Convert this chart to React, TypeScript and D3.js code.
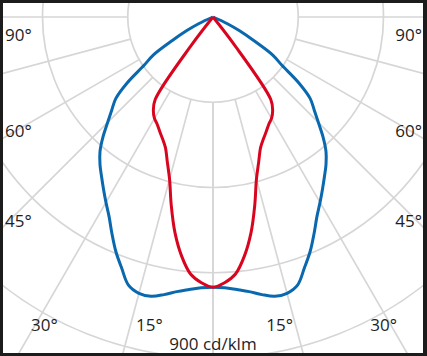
import React from "react";
import * as d3 from "d3";

const W = 427;
const H = 356;

// gamma angles (degrees from nadir) and intensities in cd/klm
const gammaAngles = [0, 2.5, 5, 7.5, 10, 12.5, 15, 17.5, 20, 22.5, 25, 27.5, 30, 32.5, 35, 37.5, 40, 42.5, 45, 47.5, 50, 52.5, 55, 57.5, 60, 62.5, 65, 67.5];
const blueValues = [713, 715, 722, 731, 744, 755, 755, 742, 705, 670, 631, 594, 565, 538, 513, 490, 464, 430, 393, 362, 335, 285, 222, 187, 124, 79, 42, 0];
const redValues = [713, 702, 681, 636, 578, 509, 443, 401, 367, 348, 333, 319, 309, 293, 266, 92, 0];

const gridValues = [225, 450, 675, 900];
const radialAngles = [0, 15, 30, 45, 60, 75, 90];
const sideLabels = ["90°", "60°", "45°"];
const bottomLabels = ["30°", "15°"];
const unitLabel = "900 cd/klm";

const CX = 213;
const CY = 17;

export default function App() {
  const r = d3.scaleLinear().domain([0, 900]).range([0, 341]);
  const rad = (d: number) => (d * Math.PI) / 180;

  const buildPoints = (vals: number[]) => {
    const n = vals.length;
    const pts: [number, number][] = [];
    // left side: from zero (centre) down to nadir
    for (let i = n - 1; i >= 0; i--) {
      const g = rad(gammaAngles[i]);
      pts.push([CX - r(vals[i]) * Math.sin(g), CY + r(vals[i]) * Math.cos(g)]);
    }
    for (let i = 1; i < n; i++) {
      const g = rad(gammaAngles[i]);
      pts.push([CX + r(vals[i]) * Math.sin(g), CY + r(vals[i]) * Math.cos(g)]);
    }
    return pts;
  };

  const line = d3.line().curve(d3.curveCatmullRom.alpha(0.5));
  const bluePath = line(buildPoints(blueValues)) || "";
  const redPath = line(buildPoints(redValues)) || "";

  const gridColor = "#d6d6d6";
  const r0 = r(gridValues[0]);
  const rFar = 700;

  const font = "'Open Sans', 'Noto Sans', sans-serif";
  const textColor = "#1e1e1e";

  return (
    <div style={{ position: "absolute", left: 0, top: 0 }}>
      <svg width={W} height={H} style={{ display: "block" }}>
        <defs>
          <clipPath id="plotClip">
            <rect x={3} y={3} width={420} height={350} />
          </clipPath>
        </defs>
        <rect x={0} y={0} width={W} height={H} fill="#1c1c1c" />
        <rect x={3} y={3} width={420} height={350} fill="#ffffff" />
        <g clipPath="url(#plotClip)">
          {gridValues.map((v) => (
            <circle key={v} cx={CX} cy={CY} r={r(v)} fill="none" stroke={gridColor} strokeWidth={1.7} />
          ))}
          {radialAngles.flatMap((a) =>
            [-1, 1].map((s) => (
              <line
                key={`${a}-${s}`}
                x1={CX + s * r0 * Math.sin(rad(a))}
                y1={CY + r0 * Math.cos(rad(a))}
                x2={CX + s * rFar * Math.sin(rad(a))}
                y2={CY + rFar * Math.cos(rad(a))}
                stroke={gridColor}
                strokeWidth={1.7}
              />
            ))
          )}
          <path d={bluePath} fill="none" stroke="#0a68ae" strokeWidth={3} strokeLinejoin="round" />
          <path d={redPath} fill="none" stroke="#d9051f" strokeWidth={3} strokeLinejoin="round" />
        </g>
        <g fontFamily={font} fontSize={17} fill={textColor}>
          {sideLabels.map((t, i) => {
            const y = [41, 137, 227][i];
            return (
              <g key={t}>
                <text x={5} y={y}>{t}</text>
                <text x={422} y={y} textAnchor="end">{t}</text>
              </g>
            );
          })}
          {bottomLabels.map((t, i) => {
            const x = [31, 136][i];
            const xr = [397, 293][i];
            return (
              <g key={t}>
                <text x={x} y={331}>{t}</text>
                <text x={xr} y={331} textAnchor="end">{t}</text>
              </g>
            );
          })}
          <text x={CX} y={350} textAnchor="middle">{unitLabel}</text>
        </g>
      </svg>
    </div>
  );
}
